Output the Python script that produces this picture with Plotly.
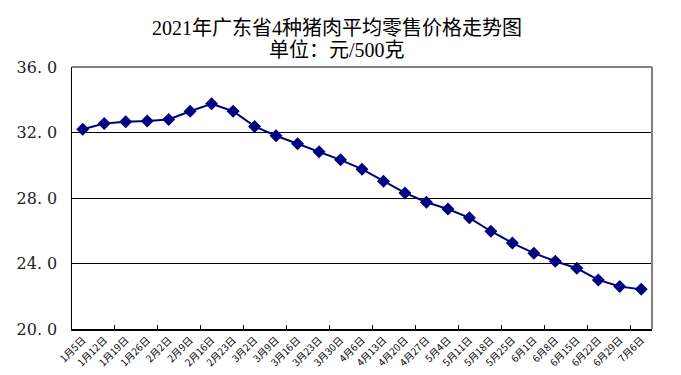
import plotly.graph_objects as go

dates = ["1月5日", "1月12日", "1月19日", "1月26日", "2月2日", "2月9日", "2月16日", "2月23日",
         "3月2日", "3月9日", "3月16日", "3月23日", "3月30日", "4月6日", "4月13日", "4月20日",
         "4月27日", "5月4日", "5月11日", "5月18日", "5月25日", "6月1日", "6月8日", "6月15日",
         "6月22日", "6月29日", "7月6日"]
prices = [32.2, 32.55, 32.65, 32.7, 32.8, 33.3, 33.75, 33.3,
          32.37, 31.8, 31.31, 30.82, 30.33, 29.76, 29.02, 28.31,
          27.74, 27.33, 26.79, 25.97, 25.25, 24.63, 24.14, 23.71,
          23.0, 22.6, 22.42]
y_ticks = [20, 24, 28, 32, 36]
y_ticklabels = ["20. 0", "24. 0", "28. 0", "32. 0", "36. 0"]
title_line1 = "2021年广东省4种猪肉平均零售价格走势图"
title_line2 = "单位：元/500克"

idx = list(range(len(dates)))
boundaries = [i - 0.5 for i in range(0, len(dates) + 1, 2)]

serif = "Liberation Serif, Noto Sans CJK SC, serif"

fig = go.Figure()
fig.add_trace(go.Scatter(
    x=idx, y=prices, mode="lines+markers",
    line=dict(color="#000080", width=2),
    marker=dict(symbol="diamond", size=10, color="#000080"),
    showlegend=False, hoverinfo="skip"
))
fig.add_trace(go.Scatter(x=[boundaries[0], boundaries[-1]], y=[None, None],
                         xaxis="x2", showlegend=False, hoverinfo="skip"))

fig.update_layout(
    width=681, height=375,
    margin=dict(l=72, r=29, t=67, b=46, autoexpand=False),
    paper_bgcolor="white", plot_bgcolor="white",
    annotations=[
        dict(text=title_line1, xref="paper", yref="paper", x=0.457, y=1,
             xanchor="center", yanchor="middle", yshift=39, showarrow=False,
             font=dict(family=serif, size=20, color="black")),
        dict(text=title_line2, xref="paper", yref="paper", x=0.457, y=1,
             xanchor="center", yanchor="middle", yshift=17, showarrow=False,
             font=dict(family=serif, size=20, color="black")),
    ],
    xaxis=dict(
        range=[-0.5, len(dates) - 0.5], automargin=False,
        tickmode="array", tickvals=idx, ticktext=dates,
        tickangle=-45, ticks="",
        tickfont=dict(family="Noto Sans CJK SC, sans-serif", size=10, color="black"),
        showgrid=False, zeroline=False,
        showline=True, linecolor="black", linewidth=1.5,
    ),
    xaxis2=dict(
        overlaying="x", matches="x", anchor="y", automargin=False,
        range=[-0.5, len(dates) - 0.5],
        tickmode="array", tickvals=boundaries, ticktext=[""] * len(boundaries),
        ticks="inside", ticklen=4, tickcolor="black", tickwidth=1,
        showgrid=False, zeroline=False, showline=False, showticklabels=False,
    ),
    yaxis=dict(
        range=[20, 36], automargin=False,
        tickmode="array", tickvals=y_ticks, ticktext=y_ticklabels,
        ticks="", ticklabelstandoff=10,
        tickfont=dict(family="DejaVu Serif, serif", size=16, color="#222222"),
        showgrid=True, gridcolor="black", gridwidth=1,
        zeroline=False,
        showline=True, linecolor="black", linewidth=1.5,
    ),
    shapes=[
        dict(type="line", xref="paper", yref="paper", x0=0, x1=1, y0=1, y1=1,
             line=dict(color="#808080", width=2)),
        dict(type="line", xref="paper", yref="paper", x0=1, x1=1, y0=0, y1=1,
             line=dict(color="#808080", width=2)),
    ],
)

fig.write_html("out.html",
               config={"displayModeBar": False, "staticPlot": True},
               post_script="document.body.style.margin='0';document.body.style.padding='0';")
